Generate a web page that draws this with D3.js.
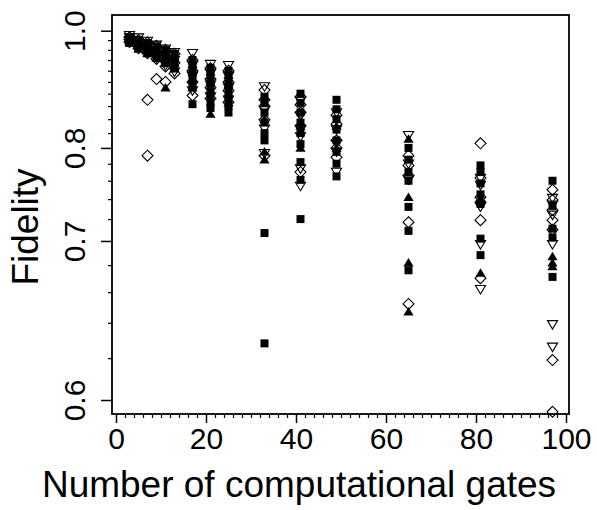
<!DOCTYPE html>
<html>
<head>
<meta charset="utf-8">
<script src="https://cdn.jsdelivr.net/npm/d3@7"></script>
<style>
  html, body { margin: 0; padding: 0; background: #fff; }
  svg { display: block; }
  text { font-family: "Liberation Sans", Arial, Helvetica, sans-serif; fill: #000; }
</style>
</head>
<body>
<svg id="chart" width="597" height="510"></svg>
<script>
// ---- data ----
const gates = [3, 5, 7, 9, 11, 13, 17, 21, 25, 33, 41, 49, 65, 81, 97];

// fidelity values per gate (one inner array per gate)
const squareF = [
  [0.985, 0.981, 0.977, 0.974],
  [0.980, 0.975, 0.970, 0.965],
  [0.974, 0.968, 0.962, 0.956],
  [0.967, 0.960, 0.952, 0.945],
  [0.960, 0.952, 0.943, 0.934],
  [0.952, 0.943, 0.933, 0.924],
  [0.940, 0.928, 0.915, 0.903, 0.892, 0.863],
  [0.925, 0.912, 0.900, 0.888, 0.876, 0.865, 0.857],
  [0.920, 0.908, 0.895, 0.883, 0.872, 0.860, 0.850],
  [0.875, 0.865, 0.850, 0.835, 0.820, 0.810, 0.707, 0.628],
  [0.880, 0.865, 0.850, 0.835, 0.820, 0.805, 0.782, 0.761, 0.720],
  [0.870, 0.855, 0.840, 0.825, 0.810, 0.795, 0.780, 0.765],
  [0.800, 0.785, 0.770, 0.760, 0.732, 0.709, 0.676],
  [0.778, 0.770, 0.757, 0.745, 0.735, 0.702, 0.688],
  [0.760, 0.733, 0.711, 0.703, 0.671]
];
const triangleF = [
  [0.982, 0.978, 0.975],
  [0.975, 0.968, 0.962],
  [0.968, 0.960, 0.953],
  [0.962, 0.953, 0.944],
  [0.955, 0.945, 0.935, 0.890],
  [0.947, 0.935, 0.925],
  [0.932, 0.918, 0.905, 0.890],
  [0.918, 0.900, 0.885, 0.848],
  [0.912, 0.895, 0.880, 0.865],
  [0.840, 0.795, 0.785],
  [0.830, 0.800],
  [0.830, 0.800],
  [0.812, 0.742, 0.682, 0.647],
  [0.740, 0.674],
  [0.687, 0.682, 0.679]
];
const diamondF = [
  [0.986, 0.981, 0.976],
  [0.980, 0.970, 0.963],
  [0.975, 0.962, 0.953, 0.870, 0.790],
  [0.968, 0.952, 0.942, 0.905],
  [0.960, 0.940, 0.928, 0.900],
  [0.952, 0.935, 0.915],
  [0.940, 0.920, 0.900, 0.877],
  [0.925, 0.905, 0.890, 0.872],
  [0.920, 0.900, 0.885, 0.866],
  [0.886, 0.870, 0.860, 0.839, 0.790],
  [0.875, 0.862, 0.850, 0.830, 0.770],
  [0.846, 0.833, 0.810, 0.800, 0.788],
  [0.790, 0.778, 0.766, 0.717, 0.652],
  [0.806, 0.763, 0.742, 0.737, 0.719, 0.670],
  [0.750, 0.739, 0.729, 0.719, 0.710, 0.619, 0.595]
];
const downTriF = [
  [0.990, 0.985, 0.979],
  [0.985, 0.976, 0.967],
  [0.978, 0.966, 0.955],
  [0.970, 0.958, 0.944],
  [0.962, 0.950, 0.930],
  [0.955, 0.940, 0.918],
  [0.953, 0.930, 0.910, 0.885],
  [0.932, 0.915, 0.895, 0.875],
  [0.930, 0.910, 0.890, 0.870],
  [0.892, 0.853, 0.826, 0.793],
  [0.868, 0.845, 0.826, 0.815, 0.774, 0.754],
  [0.850, 0.825, 0.806, 0.795, 0.770],
  [0.817, 0.780, 0.761],
  [0.763, 0.755, 0.732, 0.697, 0.662],
  [0.741, 0.734, 0.724, 0.697, 0.639, 0.626]
];

const xTicks = [0, 20, 40, 60, 80, 100];
const yTicks = [0.6, 0.7, 0.8, 1.0];
const xTitle = "Number of computational gates";
const yTitle = "Fidelity";

// ---- layout ----
const svg = d3.select("#chart");
const box = { left: 112, right: 569, top: 15, bottom: 414 };

const x = d3.scaleLinear().domain([0, 100]).range([116, 566]);
// axis is logarithmic in (F - 0.5)
const yl = d3.scaleLog().domain([0.1, 0.5]).range([400, 30.7]);
const y = f => yl(f - 0.5);

// ---- axes ----
const xMinor = d3.range(0, 101, 2).filter(v => v % 20 !== 0);
const yMinor = d3.range(30, 51).map(v => v / 50).filter(v => !yTicks.some(t => Math.abs(t - v) < 1e-9));

const gx = svg.append("g").attr("transform", `translate(0,${box.bottom})`);
gx.call(d3.axisBottom(x).tickValues(xTicks).tickSize(9).tickFormat(d3.format("d")));
gx.select(".domain").remove();
gx.selectAll(".tick line").attr("stroke", "#000").attr("stroke-width", 1.5);
gx.selectAll(".tick text").attr("y", 35).attr("dy", 0).style("font-size", "30px");
const gxm = svg.append("g").attr("transform", `translate(0,${box.bottom})`);
gxm.call(d3.axisBottom(x).tickValues(xMinor).tickSize(4).tickFormat(""));
gxm.select(".domain").remove();
gxm.selectAll(".tick line").attr("stroke", "#000").attr("stroke-width", 1.2);

const gy = svg.append("g").attr("transform", `translate(${box.left},0)`);
gy.call(d3.axisLeft(yl).tickValues(yTicks.map(t => t - 0.5)).tickSize(11)
  .tickFormat(d => (d + 0.5).toFixed(1)));
gy.select(".domain").remove();
gy.selectAll(".tick line").attr("stroke", "#000").attr("stroke-width", 1.5);
gy.selectAll(".tick text")
  .attr("x", 0).attr("dy", 0)
  .attr("transform", "translate(-27,0) rotate(-90)")
  .attr("text-anchor", "middle")
  .style("font-size", "30px");
const gym = svg.append("g").attr("transform", `translate(${box.left},0)`);
gym.call(d3.axisLeft(yl).tickValues(yMinor.map(t => t - 0.5)).tickSize(4).tickFormat(""));
gym.select(".domain").remove();
gym.selectAll(".tick line").attr("stroke", "#000").attr("stroke-width", 1.2);

svg.selectAll(".tick text").attr("fill", "#000").style("font-family", "'Liberation Sans', Arial, sans-serif");

// box
svg.append("rect")
  .attr("x", box.left).attr("y", box.top)
  .attr("width", box.right - box.left).attr("height", box.bottom - box.top)
  .attr("fill", "none").attr("stroke", "#000").attr("stroke-width", 1.8);

// titles
svg.append("text").attr("x", 299).attr("y", 497).attr("text-anchor", "middle")
  .style("font-size", "37px").text(xTitle);
svg.append("text").attr("transform", `translate(38,227) rotate(-90)`)
  .attr("text-anchor", "middle").style("font-size", "37px").text(yTitle);

// ---- markers ----
const diamondType = { draw(ctx, size) { const r = Math.sqrt(size) / Math.SQRT2; ctx.moveTo(0, -r); ctx.lineTo(r, 0); ctx.lineTo(0, r); ctx.lineTo(-r, 0); ctx.closePath(); } };
const triUpType = { draw(ctx, size) { const w = Math.sqrt(size); ctx.moveTo(0, -w * 0.55); ctx.lineTo(w * 0.6, w * 0.45); ctx.lineTo(-w * 0.6, w * 0.45); ctx.closePath(); } };
const triDownType = { draw(ctx, size) { const w = Math.sqrt(size); ctx.moveTo(0, w * 0.55); ctx.lineTo(w * 0.6, -w * 0.45); ctx.lineTo(-w * 0.6, -w * 0.45); ctx.closePath(); } };

function flatten(arr) {
  const out = [];
  arr.forEach((vals, i) => vals.forEach(f => out.push({ g: gates[i], f })));
  return out;
}

const series = [
  { data: flatten(squareF), type: d3.symbolSquare, size: 64, fill: "#000", stroke: "none" },
  { data: flatten(triangleF), type: triUpType, size: 72, fill: "#000", stroke: "none" },
  { data: flatten(diamondF), type: diamondType, size: 60, fill: "none", stroke: "#000" },
  { data: flatten(downTriF), type: triDownType, size: 72, fill: "none", stroke: "#000" }
];

series.forEach(s => {
  svg.append("g").selectAll("path").data(s.data).join("path")
    .attr("transform", d => `translate(${x(d.g)},${y(d.f)})`)
    .attr("d", d3.symbol().type(s.type).size(s.size))
    .attr("fill", s.fill).attr("stroke", s.stroke).attr("stroke-width", 1.1);
});
</script>
</body>
</html>
